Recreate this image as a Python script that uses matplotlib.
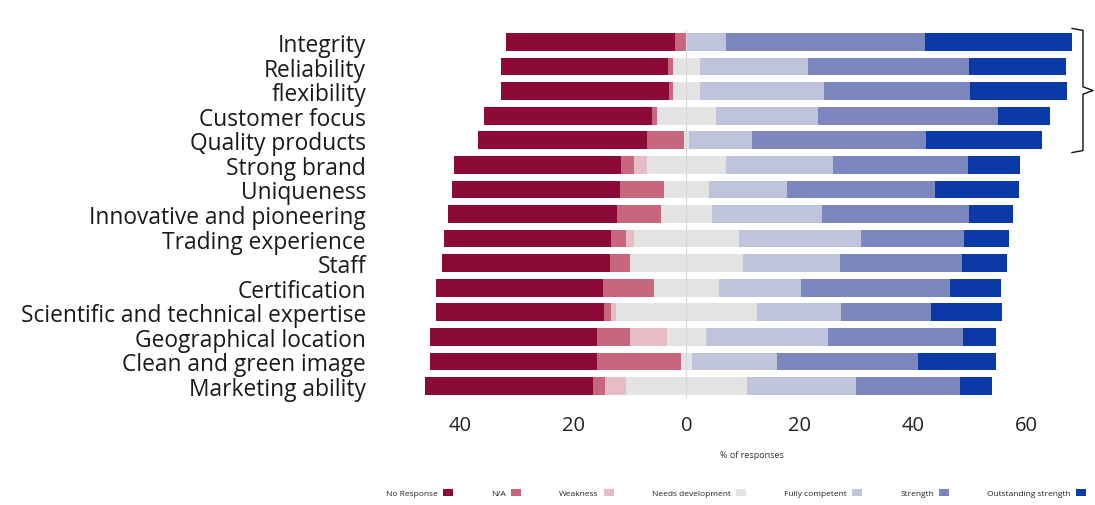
import matplotlib
matplotlib.use("Agg")
import matplotlib.pyplot as plt
import matplotlib.transforms as mtransforms
import numpy as np

plt.rcParams["font.family"] = ["Open Sans", "DejaVu Sans"]

# =====================================
# DATA (% of responses)
# =====================================
attributes = [
    "Integrity",
    "Reliability",
    "flexibility",
    "Customer focus",
    "Quality products",
    "Strong brand",
    "Uniqueness",
    "Innovative and pioneering",
    "Trading experience",
    "Staff",
    "Certification",
    "Scientific and technical expertise",
    "Geographical location",
    "Clean and green image",
    "Marketing ability",
]

no_response = [29.8, 29.6, 29.8, 29.6, 29.8, 29.5, 29.6, 29.8, 29.6, 29.6, 29.6, 29.6, 29.6, 29.6, 29.6]
not_applicable = [1.9, 0.9, 0.7, 0.9, 6.5, 2.3, 7.8, 7.8, 2.6, 3.5, 9.0, 1.2, 5.8, 14.8, 2.1]
weakness = [0.0, 0.0, 0.0, 0.0, 0.0, 2.3, 0.0, 0.0, 1.4, 0.0, 0.0, 0.9, 6.5, 0.0, 3.7]
needs_development = [0.2, 4.6, 4.6, 10.4, 1.0, 13.9, 7.8, 9.0, 18.5, 20.1, 11.3, 24.9, 6.9, 1.9, 21.4]
fully_competent = [6.8, 19.2, 21.9, 18.0, 11.1, 18.9, 13.8, 19.4, 21.5, 17.1, 14.6, 14.8, 21.5, 15.0, 19.2]
strength = [35.1, 28.4, 25.9, 31.8, 30.7, 23.8, 26.1, 25.9, 18.2, 21.5, 26.3, 15.9, 23.8, 24.9, 18.4]
outstanding = [26.1, 17.1, 17.1, 9.2, 20.5, 9.2, 14.8, 7.9, 7.9, 7.9, 9.0, 12.5, 5.8, 13.8, 5.6]

legend_labels = [
    "No Response",
    "N/A",
    "Weakness",
    "Needs development",
    "Fully competent",
    "Strength",
    "Outstanding strength",
]

colors = [
    "#8c0a38",
    "#c7677d",
    "#e6bcc6",
    "#e4e4e4",
    "#c0c3dc",
    "#7c87c0",
    "#0b3aa6",
]

series = [
    no_response,
    not_applicable,
    weakness,
    needs_development,
    fully_competent,
    strength,
    outstanding,
]

# =====================================
# DIVERGING STACKED BARS
# =====================================
fig = plt.figure(figsize=(10.95, 5.06), dpi=100)
ax = fig.add_axes([0.3837, 0.2109, 0.6055, 0.7285])

y = np.arange(len(attributes))
data = np.array(series)

# neutral category is split evenly around zero
left = -(data[0] + data[1] + data[2] + data[3] / 2)

for values, color, label in zip(data, colors, legend_labels):
    ax.barh(y, values, left=left, height=0.72, color=color,
            label=label, zorder=2)
    left = left + values

ax.axvline(0, color="#d6d6d6", linewidth=0.8, zorder=3)

ax.set_xlim(-47, 70)
ax.set_ylim(len(attributes) - 0.5, -0.5)

ax.set_yticks(y)
ax.set_yticklabels(attributes, fontsize=16.4, color="#1a1a1a")

xticks = [-40, -20, 0, 20, 40, 60]
ax.set_xticks(xticks)
ax.set_xticklabels([str(abs(t)) for t in xticks], fontsize=14.5,
                   color="#222222")

ax.tick_params(axis="y", length=0, pad=39)
ax.tick_params(axis="x", length=0, pad=12)

for spine in ax.spines.values():
    spine.set_visible(False)

ax.set_xlabel("% of responses", fontsize=6.5, color="#333333",
              labelpad=11)

# brace grouping the top five attributes
trans = mtransforms.blended_transform_factory(fig.transFigure, ax.transData)
x0, x1, x2 = 1072 / 1095, 1083 / 1095, 1093 / 1095
top, bottom = -0.55, 4.5
mid = (top + bottom) / 2
ax.plot([x0, x1, x1, x2, x1, x1, x0],
        [top, top + 0.08, mid - 0.15, mid, mid + 0.15, bottom - 0.08, bottom],
        color="#111111", linewidth=1.0, transform=trans, clip_on=False)

handles, labels = ax.get_legend_handles_labels()
fig.legend(handles, labels, loc="center", ncol=7,
           bbox_to_anchor=(0.672, 0.024), frameon=False,
           markerfirst=False, fontsize=6, handlelength=1.2,
           handleheight=1.0, columnspacing=4.6, handletextpad=0.6,
           labelcolor="#222222")

plt.savefig("out.png", dpi=100)
